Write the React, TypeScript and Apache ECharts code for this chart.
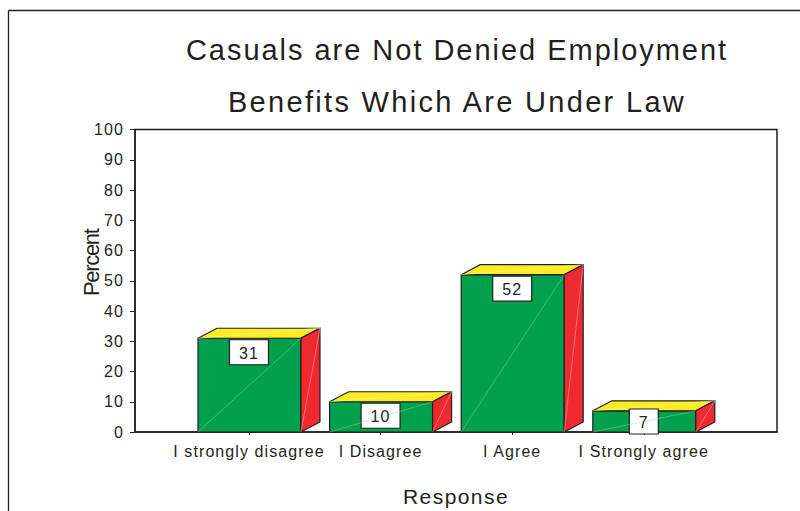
import React, { useEffect, useRef } from "react";
import * as echarts from "echarts";

const titleLines = ["Casuals are Not Denied Employment", "Benefits Which Are Under Law"];
const categories = ["I strongly disagree", "I Disagree", "I Agree", "I Strongly agree"];
const percents = [31, 10, 52, 7];
const categoryPositions = [0, 1, 2, 3];
const yTicks = { min: 0, max: 100, step: 10 };
const xName = "Response";
const yName = "Percent";

const INK = "#231f20";
const GREEN = "#00a04d";
const RED = "#ee2a30";
const YELLOW = "#fbec24";
const FONT = "'Liberation Sans', Arial, sans-serif";

function renderBar(_params: any, api: any) {
  const pos = api.value(0);
  const val = api.value(1);
  const [cx, top] = api.coord([pos, val]);
  const [, base] = api.coord([pos, 0]);
  const halfW = 51.5;
  const dx = 19;
  const dy = 10;
  const l = cx - halfW + 0.5;
  const r = cx + halfW + 0.5;
  const edge = { stroke: INK, lineWidth: 1.2 };
  const thin = { stroke: "#9bd8b8", lineWidth: 0.6, opacity: 0.75 };
  const digits = String(val).length;
  const boxW = digits > 1 ? 39 : 29;
  const boxH = 25;
  const boxTop = Math.min(top + 1.5, base - 23);
  const boxX = cx - boxW / 2;
  return {
    type: "group",
    children: [
      { type: "polygon", shape: { points: [[l, base], [r, base], [r, top], [l, top]] }, style: { fill: GREEN, ...edge } },
      { type: "polygon", shape: { points: [[l, top], [r, top], [r + dx, top - dy], [l + dx, top - dy]] }, style: { fill: YELLOW, ...edge } },
      { type: "polygon", shape: { points: [[r, base], [r + dx, base - dy], [r + dx, top - dy], [r, top]] }, style: { fill: RED, ...edge } },
      { type: "rect", shape: { x: boxX, y: boxTop, width: boxW, height: boxH }, style: { fill: "#ffffff", stroke: INK, lineWidth: 1.2 } },
      { type: "line", shape: { x1: l, y1: base, x2: r, y2: top }, style: thin },
      { type: "line", shape: { x1: r, y1: base, x2: r + dx, y2: top - dy }, style: { stroke: "#f6a0a0", lineWidth: 0.6 } },
      { type: "line", shape: { x1: l, y1: top, x2: r + dx, y2: top - dy }, style: { stroke: "#fdf6a0", lineWidth: 0.6 } },
      {
        type: "text",
        style: {
          x: boxX + boxW / 2,
          y: boxTop + boxH / 2 + 1,
          text: String(val),
          align: "center",
          verticalAlign: "middle",
          font: `16px ${FONT}`,
          fill: INK,
        },
      },
    ],
  };
}

export default function App() {
  const ref = useRef<HTMLDivElement>(null);
  useEffect(() => {
    const chart = echarts.init(ref.current!, null, { renderer: "svg" });
    chart.setOption({
      animation: false,
      backgroundColor: "#ffffff",
      title: {
        text: titleLines.join("\n"),
        left: 452,
        top: 19,
        textAlign: "center",
        textStyle: { fontFamily: FONT, fontSize: 29, fontWeight: "normal", color: INK, lineHeight: 52 },
      },
      grid: {
        left: 135,
        top: 129.5,
        width: 642,
        height: 302.5,
        show: true,
        borderColor: INK,
        borderWidth: 1.5,
        outerBoundsMode: "none",
      },
      xAxis: {
        type: "value",
        min: -0.866,
        max: 4.012,
        name: xName,
        nameLocation: "middle",
        nameGap: 54,
        nameTextStyle: { fontFamily: FONT, fontSize: 21, color: INK },
        splitLine: { show: false },
        axisLine: { show: true, onZero: false, lineStyle: { color: INK, width: 1.5 } },
        axisTick: { show: true, length: 3, customValues: categoryPositions, lineStyle: { color: INK } },
        axisLabel: {
          customValues: categoryPositions,
          formatter: (v: number) => categories[v] ?? "",
          margin: 11,
          fontFamily: FONT,
          fontSize: 16,
          color: INK,
        },
      },
      yAxis: {
        type: "value",
        min: yTicks.min,
        max: yTicks.max,
        interval: yTicks.step,
        name: yName,
        nameLocation: "middle",
        nameGap: 33,
        nameRotate: 90,
        nameMoveOverlap: false,
        nameTextStyle: { fontFamily: FONT, fontSize: 22, color: INK, padding: [0, 0, 0, 36] },
        splitLine: { show: false },
        axisLine: { show: true, onZero: false, lineStyle: { color: INK, width: 1.5 } },
        axisTick: { show: true, length: 5, inside: false, lineStyle: { color: INK } },
        axisLabel: { margin: 11, fontFamily: FONT, fontSize: 16, color: INK },
      },
      series: [
        {
          type: "custom",
          renderItem: renderBar,
          clip: false,
          encode: { x: 0, y: 1 },
          data: categoryPositions.map((p, i) => [p, percents[i]]),
        },
      ],
      graphic: [
        { type: "line", shape: { x1: 8.5, y1: 10.5, x2: 800, y2: 10.5 }, style: { stroke: INK, lineWidth: 1.3 } },
        { type: "line", shape: { x1: 8.5, y1: 10.5, x2: 8.5, y2: 511 }, style: { stroke: INK, lineWidth: 1.3 } },
      ],
    });
    // The reference's type is tracked out wider than the installed font; Percent is condensed.
    ref.current!.querySelectorAll("svg text").forEach((t) => {
      const el = t as SVGTextElement;
      const s = t.textContent;
      el.style.letterSpacing = s === yName ? "-0.06em" : s === titleLines[1] ? "0.08em" : "0.068em";
    });
    return () => chart.dispose();
  }, []);
  return <div ref={ref} style={{ position: "fixed", left: 0, top: 0, width: 800, height: 511 }} />;
}
